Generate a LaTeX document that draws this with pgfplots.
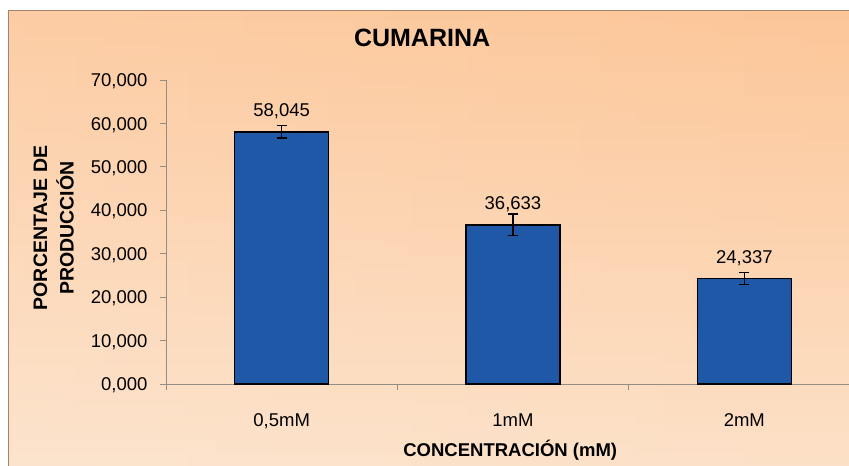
\documentclass[border=0pt]{standalone}
\usepackage{fontspec}
\setmainfont{Liberation Sans}
\usepackage{pgfplots}
\pgfplotsset{compat=1.18}
\usetikzlibrary{fadings}
\definecolor{barblue}{RGB}{31,88,166}
\definecolor{bgtop}{RGB}{252,198,152}
\definecolor{bgbot}{RGB}{252,225,200}
\definecolor{framec}{RGB}{165,130,108}
\definecolor{axgray}{RGB}{150,140,130}
\begin{document}
\begin{tikzpicture}[x=1pt,y=1pt]
\fill[white] (0,0) rectangle (849,466);
\shade[top color=bgtop, bottom color=bgbot] (8,-10) rectangle (870,455);
\fill[white, opacity=0.12, path fading=east] (8,-10) rectangle (870,455);
\draw[framec, line width=1pt] (8,-10) rectangle (870,455);
\begin{axis}[
  at={(166pt,82pt)}, anchor=south west, scale only axis,
  width=694pt, height=304pt,
  xmin=-0.5, xmax=2.5, ymin=0, ymax=70,
  axis x line*=bottom, axis y line*=left,
  axis line style={axgray, line width=0.8pt},
  tick style={axgray, line width=0.8pt},
  major tick length=6pt, minor tick length=6pt, tick align=outside,
  ybar, bar width=94pt,
  xtick={0,1,2}, xticklabels={{0,5mM},1mM,2mM},
  minor xtick={-0.5,0.5,1.5,2.5},
  every major x tick/.append style={draw=none},
  ytick={0,10,20,30,40,50,60,70},
  /pgf/number format/fixed,
  /pgf/number format/fixed zerofill,
  /pgf/number format/precision=3,
  /pgf/number format/use comma,
  /pgf/number format/assume math mode=true,
  x tick label style={font=\fontsize{18.5}{18.5}\selectfont, anchor=base, yshift=-36pt},
  y tick label style={font=\fontsize{18.5}{18.5}\selectfont, anchor=base east, xshift=-9pt, yshift=-6.6pt},
  title={CUMARINA},
  title style={at={(axis description cs:0.369,1.092)}, anchor=base, font=\fontsize{25}{25}\bfseries\selectfont},
  ylabel={PORCENTAJE DE\\PRODUCCIÓN},
  every axis y label/.style={at={(axis description cs:-0.162,0.513)}, anchor=center, rotate=90, align=center, font=\fontsize{19.5}{26.5}\bfseries\selectfont},
  xlabel={CONCENTRACIÓN (mM)},
  every axis x label/.style={at={(axis description cs:0.496,-0.24)}, anchor=base, font=\fontsize{18.5}{18.5}\bfseries\selectfont},
  nodes near coords,
  every node near coord/.append style={font=\fontsize{18.5}{18.5}\selectfont, anchor=base, yshift=15pt, inner sep=0pt, black},
  clip=false,
]
\addplot[fill=barblue, draw=black, line width=1.2pt,
  error bars/.cd, y dir=both, y explicit,
  error bar style={black, line width=1.2pt},
  error mark options={rotate=90, mark size=5pt, line width=1.2pt, black}]
  coordinates {(0,58.045) +- (0,1.4) (1,36.633) +- (0,2.5) (2,24.337) +- (0,1.35)};
\end{axis}
\pgfresetboundingbox
\useasboundingbox (0,0) rectangle (849,466);
\end{tikzpicture}
\end{document}
